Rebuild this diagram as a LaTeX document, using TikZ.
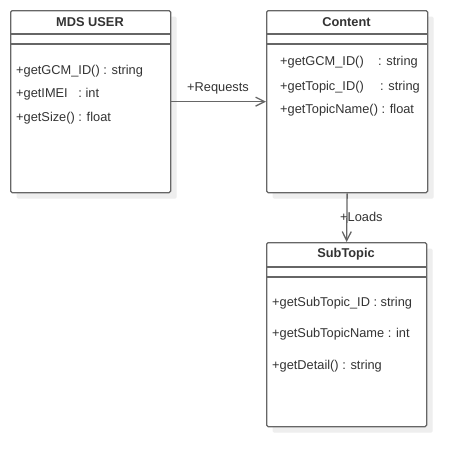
\documentclass[tikz,border=0pt]{standalone}
\usepackage{fontspec}
\setmainfont{Liberation Sans}
\usetikzlibrary{arrows.meta,shadows}
\definecolor{linec}{HTML}{666666}
\definecolor{textc}{HTML}{333333}
\definecolor{shadc}{HTML}{EEEEEE}
\tikzset{
  umlbox/.style={draw=linec, line width=1.3pt, fill=white, rounded corners=1.5pt, anchor=north west, inner sep=0pt,
    drop shadow={shadow xshift=6pt, shadow yshift=-6pt, fill=shadc, opacity=1}},
  sepline/.style={draw=linec, line width=1.3pt},
  title/.style={font=\fontsize{12.8}{15}\selectfont\bfseries, text=textc, inner sep=0pt},
  member/.style={font=\fontsize{12.8}{15}\selectfont, text=textc, anchor=west, inner sep=0pt},
  assoc/.style={draw=linec, line width=1.3pt, -{Straight Barb[length=9pt,width=9pt,line width=1.3pt]}},
  lab/.style={font=\fontsize{12.8}{15}\selectfont, text=textc, inner sep=0pt}
}
\begin{document}
\begin{tikzpicture}[x=1pt,y=-1pt]
\useasboundingbox[fill=white] (0,0) rectangle (466,466);
% MDS USER
\node[umlbox, minimum width=160pt, minimum height=182pt] (mds) at (10,10) {};
\draw[sepline] (10,34) -- (170,34);
\draw[sepline] (10,44) -- (170,44);
\node[title] (mdst) at (90,22.5) {MDS USER};
\node[member] (m1) at (16,71.5) {+getGCM\_ID() : string};
\node[member] (m2) at (16,94.5) {+getIMEI\ \ \ : int};
\node[member] (m3) at (16,118.5) {+getSize() : float};
% Content
\node[umlbox, minimum width=161pt, minimum height=182pt] (content) at (266,10) {};
\draw[sepline] (266,34) -- (427,34);
\draw[sepline] (266,44) -- (427,44);
\node[title] (contt) at (346.5,22.5) {Content};
\node[member] (c1) at (280,62.5) {+getGCM\_ID()};
\node[member] (c1b) at (378,62.5) {: string};
\node[member] (c2) at (280,87.5) {+getTopic\_ID()};
\node[member] (c2b) at (380,87.5) {: string};
\node[member] (c3) at (280,110.5) {+getTopicName() : float};
% SubTopic
\node[umlbox, minimum width=160pt, minimum height=184pt] (sub) at (266,242) {};
\draw[sepline] (266,267) -- (426,267);
\draw[sepline] (266,277) -- (426,277);
\node[title] (subt) at (346,254.5) {SubTopic};
\node[member] (s1) at (272,303.5) {+getSubTopic\_ID : string};
\node[member] (s2) at (272,334.5) {+getSubTopicName : int};
\node[member] (s3) at (272,366.5) {+getDetail() : string};
% connectors
\draw[assoc] (mds.east) -- (content.west);
\node[lab] (reql) at (218,88.5) {+Requests};
\draw[assoc] (content.south) -- (sub.north);
\node[lab, anchor=west] (loadl) at (340,217) {+Loads};
\end{tikzpicture}
\end{document}
